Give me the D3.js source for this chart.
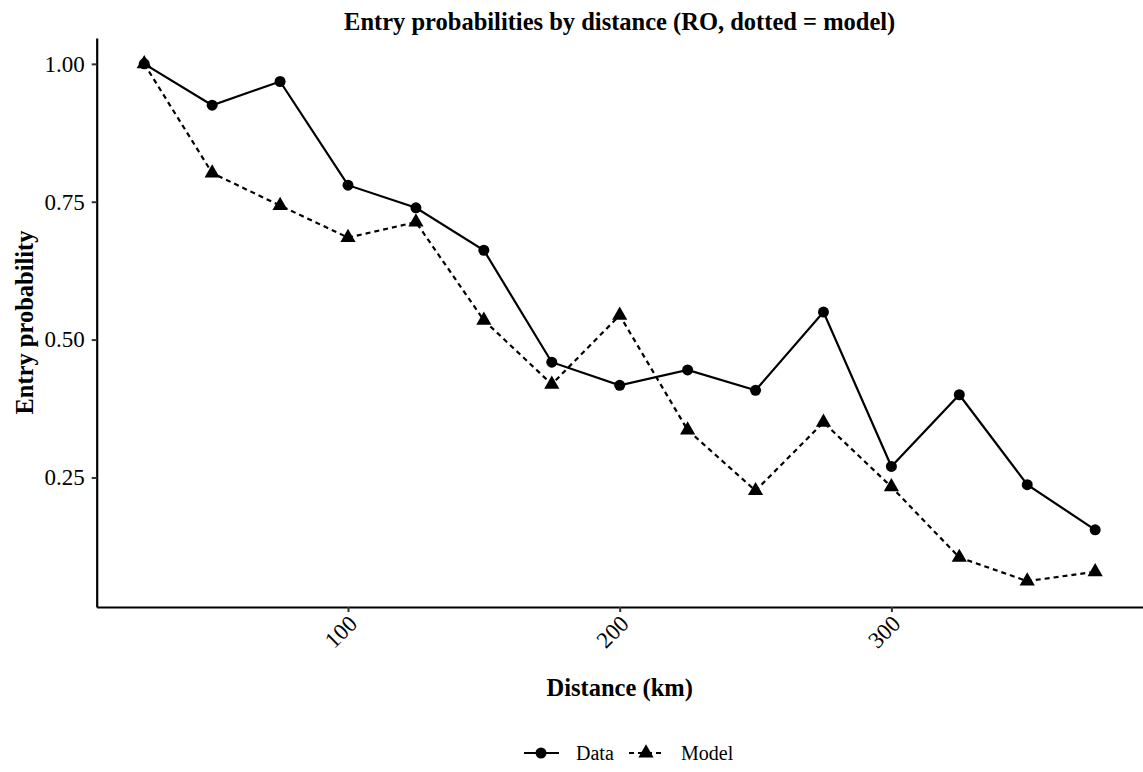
<!DOCTYPE html>
<html>
<head>
<meta charset="utf-8">
<script src="https://cdn.jsdelivr.net/npm/d3@7"></script>
<style>
  body { margin: 0; background: #fff; }
  text { font-family: "Liberation Serif", "Times New Roman", serif; fill: #000; }
</style>
</head>
<body>
<svg id="chart" width="1143" height="772"></svg>
<script>
var distances = [25, 50, 75, 100, 125, 150, 175, 200, 225, 250, 275, 300, 325, 350, 375];
var dataProb  = [1.00, 0.925, 0.968, 0.780, 0.739, 0.662, 0.459, 0.417, 0.445, 0.408, 0.550, 0.270, 0.400, 0.237, 0.155];
var modelProb = [1.00, 0.802, 0.743, 0.685, 0.713, 0.535, 0.419, 0.544, 0.336, 0.226, 0.350, 0.233, 0.105, 0.062, 0.079];
var xTicks = [100, 200, 300];
var yTicks = [0.25, 0.50, 0.75, 1.00];

var svg = d3.select("#chart"),
    width = +svg.attr("width"),
    height = +svg.attr("height");

var margin = {left: 96.7, right: 0.3, top: 38, bottom: 165};

// ggplot style 5% expansion
function expand(ext) {
  var d = ext[1] - ext[0];
  return [ext[0] - d * 0.05, ext[1] + d * 0.05];
}
var allY = dataProb.concat(modelProb);

var x = d3.scaleLinear()
    .domain(expand(d3.extent(distances)))
    .range([margin.left, width - margin.right]);
var y = d3.scaleLinear()
    .domain(expand(d3.extent(allY)))
    .range([height - margin.bottom, margin.top]);

var series = [
  {name: "Data", values: dataProb, dash: null, shape: d3.symbolCircle, size: 95},
  {name: "Model", values: modelProb, dash: "5,4", shape: d3.symbolTriangle, size: 100}
];

// axes
var xAxis = svg.append("g")
    .attr("transform", "translate(0," + (height - margin.bottom) + ")")
    .call(d3.axisBottom(x).tickValues(xTicks).tickSize(5).tickSizeOuter(0).tickFormat(d3.format("d")));
xAxis.select(".domain").attr("stroke-width", 2.2);
xAxis.selectAll(".tick line").attr("stroke-width", 2).attr("stroke", "#333");
xAxis.selectAll(".tick text")
    .style("font-size", "23px")
    .attr("fill", "#222")
    .attr("text-anchor", "end")
    .attr("dy", null)
    .attr("y", 0).attr("x", 0)
    .attr("transform", "translate(10,18) rotate(-45)");

var yAxis = svg.append("g")
    .attr("transform", "translate(" + margin.left + ",0)")
    .call(d3.axisLeft(y).tickValues(yTicks).tickSize(5).tickSizeOuter(0).tickFormat(d3.format(".2f")));
yAxis.select(".domain").attr("stroke-width", 2.2);
yAxis.selectAll(".tick line").attr("stroke-width", 2).attr("stroke", "#333");
yAxis.selectAll(".tick text")
    .style("font-size", "23px")
    .attr("fill", "#222")
    .attr("x", -12);

// lines + points
var line = d3.line()
    .x(function(d, i) { return x(distances[i]); })
    .y(function(d) { return y(d); });

series.forEach(function(s) {
  svg.append("path")
      .datum(s.values)
      .attr("fill", "none")
      .attr("stroke", "#000")
      .attr("stroke-width", 2.2)
      .attr("stroke-dasharray", s.dash)
      .attr("d", line);

  svg.append("g").selectAll("path")
      .data(s.values)
      .enter().append("path")
      .attr("d", d3.symbol().type(s.shape).size(s.size))
      .attr("fill", "#000")
      .attr("transform", function(d, i) {
        return "translate(" + x(distances[i]) + "," + y(d) + ")";
      });
});

// titles
var cx = (margin.left + width - margin.right) / 2;
svg.append("text")
    .attr("x", cx).attr("y", 30)
    .attr("text-anchor", "middle")
    .style("font-size", "24.5px").style("font-weight", "bold")
    .text("Entry probabilities by distance (RO, dotted = model)");

svg.append("text")
    .attr("x", cx).attr("y", 696)
    .attr("text-anchor", "middle")
    .style("font-size", "24.5px").style("font-weight", "bold")
    .text("Distance (km)");

svg.append("text")
    .attr("transform", "translate(33," + ((margin.top + height - margin.bottom) / 2) + ") rotate(-90)")
    .attr("text-anchor", "middle")
    .style("font-size", "24.5px").style("font-weight", "bold")
    .text("Entry probability");

// legend
var legend = svg.append("g").attr("transform", "translate(524,753)");
var legX = [0, 105];
series.forEach(function(s, i) {
  var g = legend.append("g").attr("transform", "translate(" + legX[i] + ",0)");
  g.append("line")
      .attr("x1", 0).attr("x2", 35)
      .attr("stroke", "#000").attr("stroke-width", 2.2)
      .attr("stroke-dasharray", s.dash);
  g.append("path")
      .attr("d", d3.symbol().type(s.shape).size(s.size))
      .attr("transform", "translate(17,0)")
      .attr("fill", "#000");
  g.append("text")
      .attr("x", 52).attr("y", 6.5)
      .style("font-size", "20px")
      .text(s.name);
});
</script>
</body>
</html>
